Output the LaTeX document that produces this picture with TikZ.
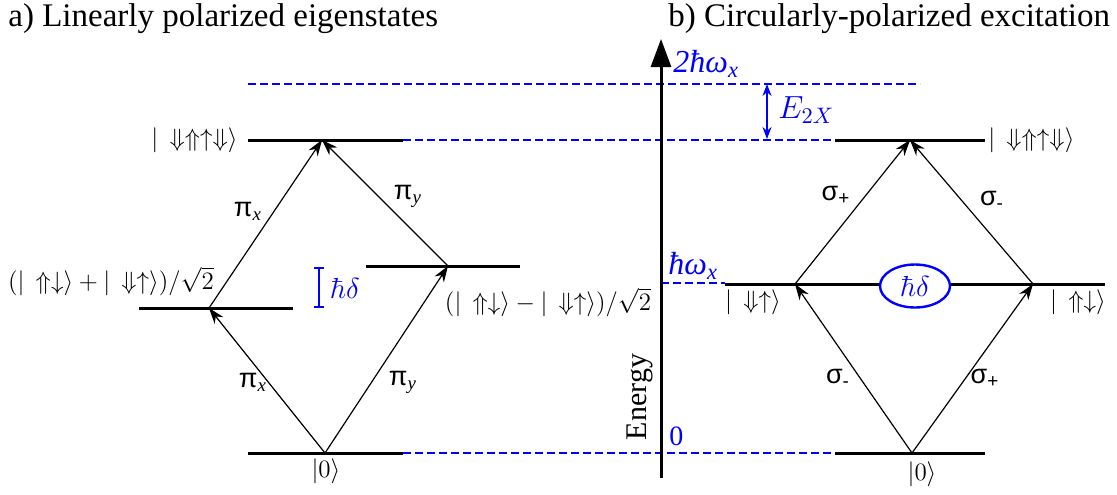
\RequirePackage{fix-cm}
\documentclass[tikz,border=0pt]{standalone}
\usepackage[no-math]{fontspec}
\setmainfont{Liberation Serif}
\newfontfamily\sansf{Liberation Sans}
\usetikzlibrary{arrows.meta,shapes.geometric}
\begin{document}
\begin{tikzpicture}[x=0.5pt,y=-0.5pt,
  level/.style={line width=1.5pt},
  trans/.style={line width=0.6pt,-{Stealth[length=8pt,width=5.5pt]}},
  guide/.style={blue,line width=0.6pt,dash pattern=on 4pt off 2pt},
  ket/.style={font=\fontsize{12.5}{15}\selectfont,inner sep=0pt},
  pol/.style={font=\sansf\fontsize{13.5}{15}\selectfont,inner sep=0pt},
  ttl/.style={font=\fontsize{16.5}{19}\selectfont,anchor=west,inner sep=0pt},
  bl/.style={blue,inner sep=0pt}]
\useasboundingbox (0,0) rectangle (1117,494);

% titles
\node[ttl] (ta) at (8,19) {a) Linearly polarized eigenstates};
\node[ttl] (tb) at (668,19) {b) Circularly-polarized excitation};

% guide lines
\coordinate (g2a) at (248,84);  \coordinate (g2b) at (920,84);
\coordinate (gxxa) at (403,140); \coordinate (gxxb) at (835,140);
\coordinate (gxa) at (661,283); \coordinate (gxb) at (725,283);
\coordinate (g0a) at (403,453); \coordinate (g0b) at (835,453);
\draw[guide] (g2a) -- (g2b);
\draw[guide] (gxxa) -- (gxxb);
\draw[guide] (gxa) -- (gxb);
\draw[guide] (g0a) -- (g0b);

% ---------- left panel levels ----------
\coordinate (LTa) at (248,140); \coordinate (LTb) at (403,140);
\coordinate (LMa) at (139,308); \coordinate (LMb) at (293,308);
\coordinate (RMa) at (366,266); \coordinate (RMb) at (520,266);
\coordinate (LBa) at (248,453); \coordinate (LBb) at (403,453);
\draw[level] (LTa) -- (LTb);
\draw[level] (LMa) -- (LMb);
\draw[level] (RMa) -- (RMb);
\draw[level] (LBa) -- (LBb);

\coordinate (pT) at (322,140);
\coordinate (pL) at (209,308);
\coordinate (pR) at (448,266);
\coordinate (pB) at (325,453);
\draw[trans] (pB) -- (pL);
\draw[trans] (pB) -- (pR);
\draw[trans] (pL) -- (pT);
\draw[trans] (pR) -- (pT);

\node[ket,anchor=east] (kLT) at (238,140) {$|\,\Downarrow\Uparrow\uparrow\Downarrow\rangle$};
\node[ket] (kLM) at (111,281) {$(|\,\Uparrow\downarrow\rangle+|\,\Downarrow\uparrow\rangle)/\sqrt{2}$};
\node[ket] (kRM) at (548,302) {$(|\,\Uparrow\downarrow\rangle-|\,\Downarrow\uparrow\rangle)/\sqrt{2}$};
\node[ket] (kLB) at (326,471) {$|0\rangle$};

\node[pol] (px1) at (248,211) {π\textsubscript{\rmfamily\itshape x}};
\node[pol] (py1) at (408,196) {π\textsubscript{\rmfamily\itshape y}};
\node[pol] (px2) at (253,382) {π\textsubscript{\rmfamily\itshape x}};
\node[pol] (py2) at (403,382) {π\textsubscript{\rmfamily\itshape y}};

% splitting bracket
\coordinate (bT) at (319,267); \coordinate (bB) at (319,308);
\draw[blue,line width=0.8pt,{Bar[width=5pt]}-{Bar[width=5pt]}] (bT) -- (bB);
\node[bl,font=\fontsize{14.5}{16}\selectfont] (hdL) at (345,288) {$\hbar\delta$};

% ---------- energy axis ----------
\coordinate (axB) at (661,478); \coordinate (axT) at (661,39);
\draw[line width=1.5pt,-{Triangle[length=14pt,width=10pt]}] (axB) -- (axT);
\node[font=\fontsize{15}{17}\selectfont,rotate=90,inner sep=0pt] (en) at (640,397) {Energy};
\node[bl,font=\fontsize{16}{18}\selectfont\itshape,anchor=west] (l2) at (673,64) {2ħω\textsubscript{x}};
\node[bl,font=\fontsize{16}{18}\selectfont\itshape,anchor=west] (l1) at (668,266) {ħω\textsubscript{x}};
\node[bl,font=\fontsize{14}{16}\selectfont,anchor=west] (l0) at (669,436) {0};

% E2X
\coordinate (eT) at (767,84); \coordinate (eB) at (767,139);
\draw[blue,line width=0.8pt,{Stealth[length=6pt,width=4.5pt]}-{Stealth[length=6pt,width=4.5pt]}] (eT) -- (eB);
\node[bl,font=\fontsize{16}{18}\selectfont,anchor=west] (e2x) at (778,110) {$E_{2X}$};

% ---------- right panel ----------
\coordinate (RTa) at (835,140); \coordinate (RTb) at (985,140);
\coordinate (RXa) at (725,284); \coordinate (RXb) at (1105,284);
\coordinate (RBa) at (835,453); \coordinate (RBb) at (985,453);
\draw[level] (RTa) -- (RTb);
\draw[level] (RXa) -- (RXb);
\draw[level] (RBa) -- (RBb);

\node[ellipse,draw=blue,line width=1.2pt,fill=white,minimum width=35pt,minimum height=21.5pt,inner sep=0pt,text=blue,font=\fontsize{14.5}{16}\selectfont] (hdR) at (915,286) {$\hbar\delta$};

\coordinate (qT) at (910,140);
\coordinate (qL) at (795,284);
\coordinate (qR) at (1033,284);
\coordinate (qB) at (912,453);
\draw[trans] (qB) -- (qL);
\draw[trans] (qB) -- (qR);
\draw[trans] (qL) -- (qT);
\draw[trans] (qR) -- (qT);

\node[ket,anchor=west] (kRT) at (988,140) {$|\,\Downarrow\Uparrow\uparrow\Downarrow\rangle$};
\node[ket] (kRL) at (753,302) {$|\,\Downarrow\uparrow\rangle$};
\node[ket] (kRR) at (1078,302) {$|\,\Uparrow\downarrow\rangle$};
\node[ket] (kRB) at (922,474) {$|0\rangle$};

\node[pol] (sp1) at (836,195) {σ\textsubscript{+}};
\node[pol] (sm1) at (992,200) {σ\textsubscript{-}};
\node[pol] (sm2) at (838,378) {σ\textsubscript{-}};
\node[pol] (sp2) at (985,378) {σ\textsubscript{+}};
\end{tikzpicture}
\end{document}
